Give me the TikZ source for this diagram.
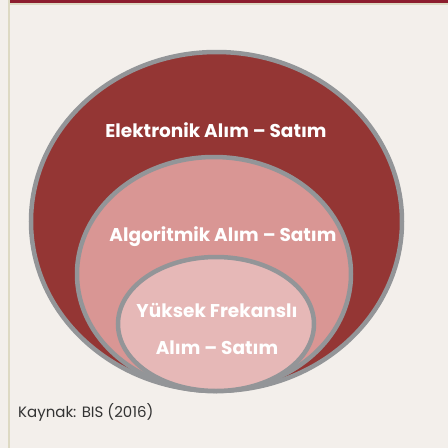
\documentclass[tikz,border=0pt]{standalone}
\usepackage{fontspec}
\setmainfont{Poppins}
\usepackage{tikz}
\usetikzlibrary{positioning}

\definecolor{paper}{HTML}{F3EFEB}
\definecolor{barred}{HTML}{8C1D2E}
\definecolor{rule}{HTML}{DDD9C3}
\definecolor{ringgray}{HTML}{939598}
\definecolor{outerred}{HTML}{943634}
\definecolor{midpink}{HTML}{D99694}
\definecolor{innerpink}{HTML}{E6B8B7}
\definecolor{srctext}{HTML}{333333}

\begin{document}
\begin{tikzpicture}[x=1pt,y=-1pt]
		\tikzstyle{ring}=[draw=ringgray, line width=4.5pt]
		\tikzstyle{label}=[text=white, font=\bfseries\fontsize{18.5}{20}\selectfont, inner sep=0pt]
		\tikzstyle{source}=[text=srctext, font=\fontsize{15}{17}\selectfont, inner sep=0pt, anchor=west]

		% page
		\fill[paper] (0,0) rectangle (448,448);
		\useasboundingbox (0,0) rectangle (448,448);
		\fill[rule] (8,0) rectangle (10,448);
		\fill[rule] (10,3) rectangle (448,5);
		\fill[barred] (10,0) rectangle (448,3);

		% rings
		\filldraw[ring, fill=outerred] (216.5,221.5) ellipse [x radius=185.5, y radius=169.5];
		\filldraw[ring, fill=midpink] (214,274) ellipse [x radius=137, y radius=117];
		\filldraw[ring, fill=innerpink] (216,324) ellipse [x radius=98, y radius=67];

		\node [label] (elec) at (216,130) {Elektronik Alım – Satım};
		\node [label] (algo) at (223,237) {Algoritmik Alım – Satım};
		\node [label] (hft) at (217,310) {Yüksek Frekanslı};
		\node [label] (hft2) at (217,348) {Alım – Satım};

		\node [source] (src) at (18,412) {Kaynak: BIS (2016)};
	\end{tikzpicture}
\end{document}
